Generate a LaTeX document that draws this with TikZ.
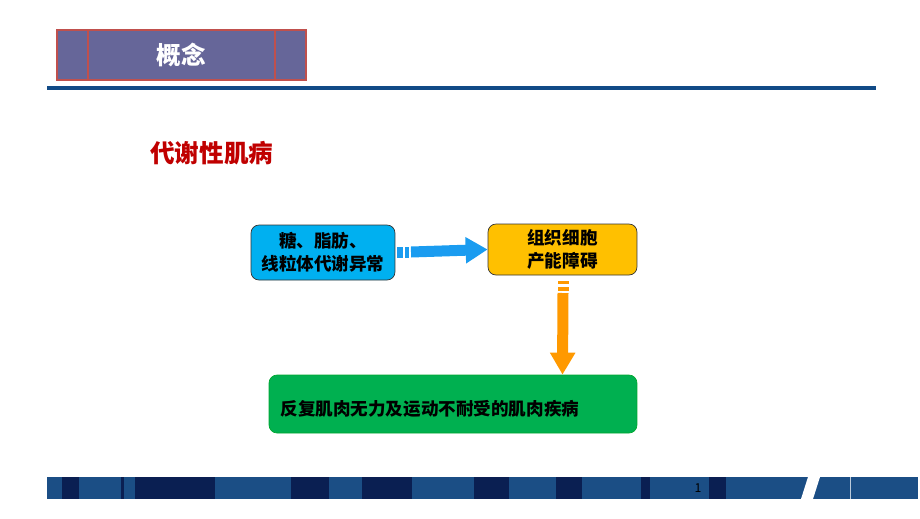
\documentclass[tikz,border=0pt]{standalone}
\usepackage{fontspec}
\setmainfont{Noto Sans CJK SC}
\usetikzlibrary{arrows.meta}
\definecolor{titlepurple}{HTML}{666699}
\definecolor{titlered}{HTML}{C0504D}
\definecolor{rulerblue}{HTML}{114A86}
\definecolor{barmid}{HTML}{1B4E85}
\definecolor{bardark}{HTML}{0A1F52}
\definecolor{boxblue}{HTML}{00B0F0}
\definecolor{boxyellow}{HTML}{FFC000}
\definecolor{boxgreen}{HTML}{00B050}
\definecolor{arrowblue}{HTML}{1A9CF0}
\definecolor{arroworange}{HTML}{FF9900}
\definecolor{headred}{HTML}{C00000}
\tikzset{
  flowbox/.style={draw=black!80, rounded corners=0.16cm, align=center,
    font=\bfseries\fontsize{10}{13}\selectfont, inner sep=2pt},
  bluearrow/.style={arrowblue, line width=0.22cm, -{Triangle[width=0.5cm,length=0.44cm]}},
  orangearrow/.style={arroworange, line width=0.22cm, -{Triangle[width=0.48cm,length=0.44cm]}}
}
\begin{document}
\begin{tikzpicture}[x=0.02cm, y=-0.02cm]
    \useasboundingbox (0,0) rectangle (920,518);

    % Title bar
    \node[fill=titlepurple, draw=titlered, line width=0.8pt, minimum width=4.98cm,
          minimum height=1cm, text=white, font=\bfseries\fontsize{14}{16}\selectfont]
          (title) at (181.5,55) {概念};
    \draw[titlered, line width=0.8pt] (88,30) -- (88,80);
    \draw[titlered, line width=0.8pt] (275,30) -- (275,80);
    \draw[rulerblue, line width=0.08cm] (47,88) -- (876,88);

    % Heading
    \node[text=headred, anchor=west, font=\bfseries\fontsize{14}{16}\selectfont]
          (heading) at (144,153) {代谢性肌病};

    % Boxes
    \node[flowbox, fill=boxblue, minimum width=2.88cm, minimum height=1.1cm]
          (cause) at (323,252.5) {糖、脂肪、\\线粒体代谢异常};
    \node[flowbox, fill=boxyellow, minimum width=2.98cm, minimum height=1.02cm]
          (energy) at (562.5,249.5) {组织细胞\\产能障碍};
    \node[flowbox, draw=green!60!black!40!boxgreen, fill=boxgreen, minimum width=7.36cm,
          minimum height=1.16cm, text width=6.9cm, align=left]
          (disease) at (453,404) {\rule{0pt}{14pt}反复肌肉无力及运动不耐受的肌肉疾病};

    % Arrows
    \fill[arrowblue] (397,246.5) rectangle (403,257.5);
    \fill[arrowblue] (405,246.5) rectangle (409,257.5);
    \draw[bluearrow] (411,252) -- (energy.west);
    \fill[arroworange] (557.5,281) rectangle (568.5,284);
    \fill[arroworange] (557.5,287) rectangle (568.5,291);
    \draw[orangearrow] (563,293) -- (disease.north -| energy);

    % Bottom bar
    \fill[barmid] (47,477) rectangle (918,499);
    \foreach \a/\b in {62/79, 121/124, 135/215, 291/329, 362/412,
                       474/509, 556/582, 641/650, 709/726} {
        \fill[bardark] (\a,477) rectangle (\b,499);
    }
    \fill[white] (808,477) -- (820,477) -- (813,499) -- (801,499) -- cycle;
    \draw[white!70!barmid, line width=0.4pt] (850,477) -- (850,499);
    \node[font=\fontsize{7}{8}\selectfont] (page) at (698,488) {1};
\end{tikzpicture}
\end{document}
